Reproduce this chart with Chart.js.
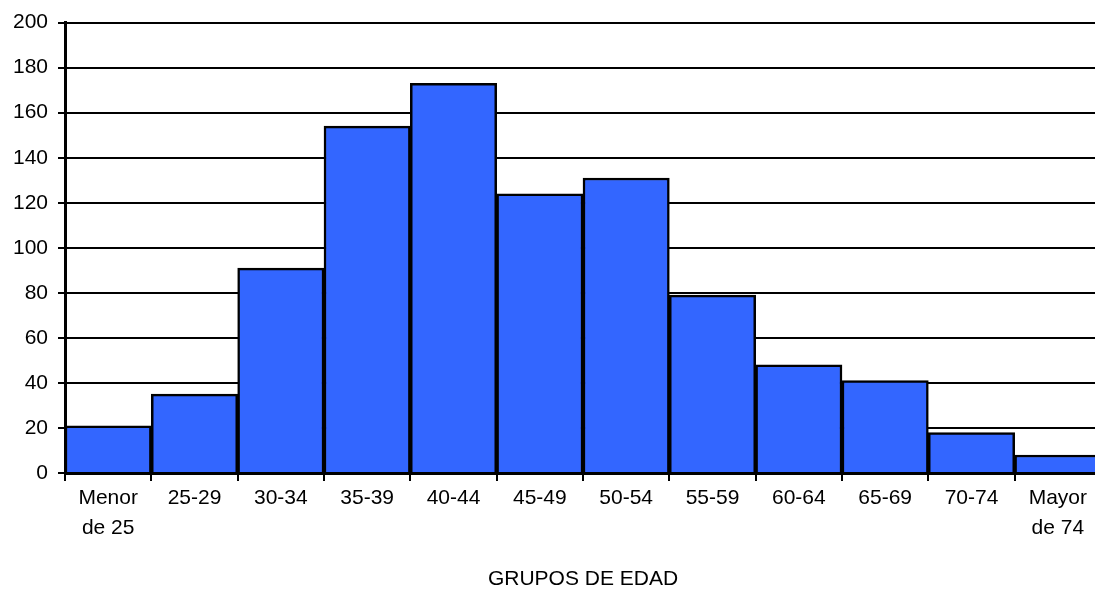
<!DOCTYPE html>
<html>
<head>
<meta charset="utf-8">
<script src="https://cdn.jsdelivr.net/npm/chart.js@4"></script>
<style>
  html, body { margin: 0; padding: 0; background: #fff; overflow: hidden; }
  canvas { display: block; }
</style>
</head>
<body>
<canvas id="edadChart" width="1102" height="592"></canvas>
<script>
  // Age groups and counts
  const grupos = [['Menor', 'de 25'], '25-29', '30-34', '35-39', '40-44', '45-49',
    '50-54', '55-59', '60-64', '65-69', '70-74', ['Mayor', 'de 74']];
  const cantidades = [21, 35, 91, 154, 173, 124, 131, 79, 48, 41, 18, 8];
  const yTicks = [0, 20, 40, 60, 80, 100, 120, 140, 160, 180, 200];

  Chart.defaults.font.family = '"Liberation Sans", Arial, sans-serif';
  Chart.defaults.font.size = 21;
  Chart.defaults.color = '#000';

  const ctx = document.getElementById('edadChart').getContext('2d');
  const edadChart = new Chart(ctx, {
    type: 'bar',
    data: {
      labels: grupos,
      datasets: [{
        data: cantidades,
        backgroundColor: '#3366ff',
        borderColor: '#000',
        borderWidth: 2.5,
        barPercentage: 1,
        categoryPercentage: 1,
      }]
    },
    options: {
      responsive: false,
      animation: false,
      layout: { padding: { top: 21, left: 0, right: 1, bottom: 0 } },
      plugins: {
        legend: { display: false },
        tooltip: { enabled: false }
      },
      scales: {
        x: {
          grid: {
            drawOnChartArea: false,
            drawTicks: true,
            tickLength: 8,
            color: '#000',
            lineWidth: 2
          },
          border: { color: '#000', width: 3 },
          ticks: {
            padding: 2,
            maxRotation: 0,
            autoSkip: false,
            font: { size: 21, lineHeight: 1.43 }
          },
          title: {
            display: true,
            text: 'GRUPOS DE EDAD',
            font: { size: 21 },
            padding: { top: 0, bottom: 0 }
          },
          afterFit: (scale) => { scale.height = 119; }
        },
        y: {
          min: 0,
          max: 200,
          afterBuildTicks: (scale) => { scale.ticks = yTicks.map(v => ({ value: v })); },
          grid: {
            color: '#000',
            lineWidth: 2,
            tickLength: 7
          },
          border: { color: '#000', width: 3 },
          ticks: { padding: 10 },
          afterFit: (scale) => { scale.width = 65; }
        }
      }
    }
  });
</script>
</body>
</html>
